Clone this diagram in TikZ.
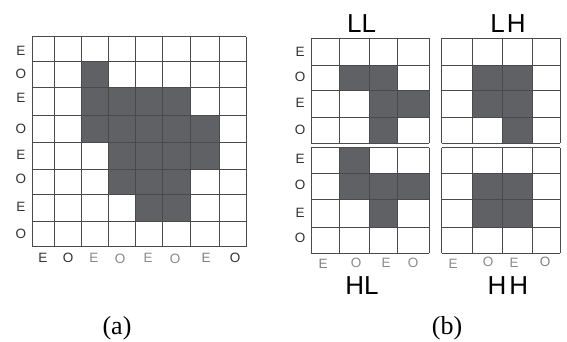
\documentclass[tikz,border=0pt]{standalone}
\usepackage{fontspec}
\setmainfont{Liberation Serif}
\newfontfamily\labfont{Liberation Sans}
\definecolor{cellfill}{HTML}{606164}
\definecolor{gridline}{HTML}{4A4A4A}
\definecolor{labdark}{HTML}{333333}
\definecolor{labgray}{HTML}{8A8A8A}
\begin{document}
\begin{tikzpicture}[x=1pt,y=-1pt,
  gridln/.style={draw=gridline,line width=0.8pt},
  cellbox/.style={fill=cellfill},
  eolab/.style={font=\labfont\fontsize{13.5}{13.5}\selectfont,text=labdark,inner sep=0pt},
  eogray/.style={eolab,text=labgray},
  bandlab/.style={font=\labfont\fontsize{26}{26}\selectfont,text=black,inner sep=0pt},
  captext/.style={font=\fontsize{26}{26}\selectfont,inner sep=0pt}]
\useasboundingbox[fill=white] (0,0) rectangle (567,341);

% ---------- panel (a) ----------
\def\AX{{32,54.3,81.3,108.3,135,162.3,190.3,219,246}}
\def\AY{{36.7,61,87.3,115,142.7,169,194.3,221,246.7}}
\foreach \c/\r in {2/1, 2/2,3/2,4/2,5/2, 2/3,3/3,4/3,5/3,6/3, 3/4,4/4,5/4,6/4, 3/5,4/5,5/5, 4/6,5/6}{
  \pgfmathsetmacro\xa{\AX[\c]}\pgfmathsetmacro\xb{\AX[\c+1]}
  \pgfmathsetmacro\ya{\AY[\r]}\pgfmathsetmacro\yb{\AY[\r+1]}
  \fill[cellbox] (\xa,\ya) rectangle (\xb,\yb);
}
\foreach \i in {0,...,8}{
  \pgfmathsetmacro\xx{\AX[\i]}\pgfmathsetmacro\yy{\AY[\i]}
  \draw[gridln] (\xx,36.7) -- (\xx,246.7);
  \draw[gridln] (32,\yy) -- (246,\yy);
}
\node[eolab] (ar0) at (21,51) {E};
\node[eolab] (ar1) at (21,74) {O};
\node[eolab] (ar2) at (21,98) {E};
\node[eolab] (ar3) at (21,129) {O};
\node[eolab] (ar4) at (21,155) {E};
\node[eolab] (ar5) at (21,179) {O};
\node[eolab] (ar6) at (21,207) {E};
\node[eolab] (ar7) at (21,234) {O};
\node[eolab] (ac0) at (43,258) {E};
\node[eolab] (ac1) at (68,258) {O};
\node[eogray] (ac2) at (94,258) {E};
\node[eogray] (ac3) at (120,259) {O};
\node[eogray] (ac4) at (148,258) {E};
\node[eogray] (ac5) at (175,259) {O};
\node[eogray,text=gray] (ac6) at (206,258) {E};
\node[eolab] (ac7) at (235,258) {O};
\node[captext] (capa) at (117,328) {(a)};

% ---------- panel (b) ----------
\def\BXL{{311,339.3,369,397.7,429.3}}
\def\BXR{{441.7,472.7,502.3,532.3,560}}
\def\BYT{{38.3,65.5,90,117.8,143.3}}
\def\BYB{{147.7,173.3,199.6,227,253.3}}
% LL
\foreach \c/\r in {1/1,2/1,2/2,3/2,2/3}{
  \pgfmathsetmacro\xa{\BXL[\c]}\pgfmathsetmacro\xb{\BXL[\c+1]}
  \pgfmathsetmacro\ya{\BYT[\r]}\pgfmathsetmacro\yb{\BYT[\r+1]}
  \fill[cellbox] (\xa,\ya) rectangle (\xb,\yb);
}
% HL
\foreach \c/\r in {1/0,1/1,2/1,3/1,2/2}{
  \pgfmathsetmacro\xa{\BXL[\c]}\pgfmathsetmacro\xb{\BXL[\c+1]}
  \pgfmathsetmacro\ya{\BYB[\r]}\pgfmathsetmacro\yb{\BYB[\r+1]}
  \fill[cellbox] (\xa,\ya) rectangle (\xb,\yb);
}
% LH
\foreach \c/\r in {1/1,2/1,1/2,2/2,2/3}{
  \pgfmathsetmacro\xa{\BXR[\c]}\pgfmathsetmacro\xb{\BXR[\c+1]}
  \pgfmathsetmacro\ya{\BYT[\r]}\pgfmathsetmacro\yb{\BYT[\r+1]}
  \fill[cellbox] (\xa,\ya) rectangle (\xb,\yb);
}
% HH
\foreach \c/\r in {1/1,2/1,1/2,2/2}{
  \pgfmathsetmacro\xa{\BXR[\c]}\pgfmathsetmacro\xb{\BXR[\c+1]}
  \pgfmathsetmacro\ya{\BYB[\r]}\pgfmathsetmacro\yb{\BYB[\r+1]}
  \fill[cellbox] (\xa,\ya) rectangle (\xb,\yb);
}
\foreach \i in {0,...,4}{
  \pgfmathsetmacro\xl{\BXL[\i]}\pgfmathsetmacro\xr{\BXR[\i]}
  \pgfmathsetmacro\yt{\BYT[\i]}\pgfmathsetmacro\yb{\BYB[\i]}
  \draw[gridln] (\xl,38.3) -- (\xl,143.3);
  \draw[gridln] (\xl,147.7) -- (\xl,253.3);
  \draw[gridln] (\xr,38.3) -- (\xr,143.3);
  \draw[gridln] (\xr,147.7) -- (\xr,253.3);
  \draw[gridln] (311,\yt) -- (429.3,\yt);
  \draw[gridln] (441.7,\yt) -- (560,\yt);
  \draw[gridln] (311,\yb) -- (429.3,\yb);
  \draw[gridln] (441.7,\yb) -- (560,\yb);
}
\node[eolab] (br0) at (300,52) {E};
\node[eolab] (br1) at (300,77) {O};
\node[eolab] (br2) at (300,103) {E};
\node[eolab] (br3) at (300,130) {O};
\node[eolab] (br4) at (300,159) {E};
\node[eolab] (br5) at (300,185) {O};
\node[eolab] (br6) at (300,213) {E};
\node[eolab] (br7) at (300,238) {O};
\node[eolab,text=gray] (bc0) at (323,264) {E};
\node[eogray] (bc1) at (356,263) {O};
\node[eogray] (bc2) at (386,263) {E};
\node[eogray] (bc3) at (413,263) {O};
\node[eogray] (bc4) at (453,264) {E};
\node[eogray] (bc5) at (488,262) {O};
\node[eogray] (bc6) at (514,263) {E};
\node[eolab,text=gray] (bc7) at (545,262) {O};
\node[bandlab] (ll) at (361.5,24) {LL};
\node[bandlab] (lh) at (508,24) {L\kern2pt H};
\node[bandlab] (hl) at (362,286) {HL};
\node[bandlab] (hh) at (508,286) {H\kern3pt H};
\node[captext] (capb) at (447,328) {(b)};
\end{tikzpicture}
\end{document}
